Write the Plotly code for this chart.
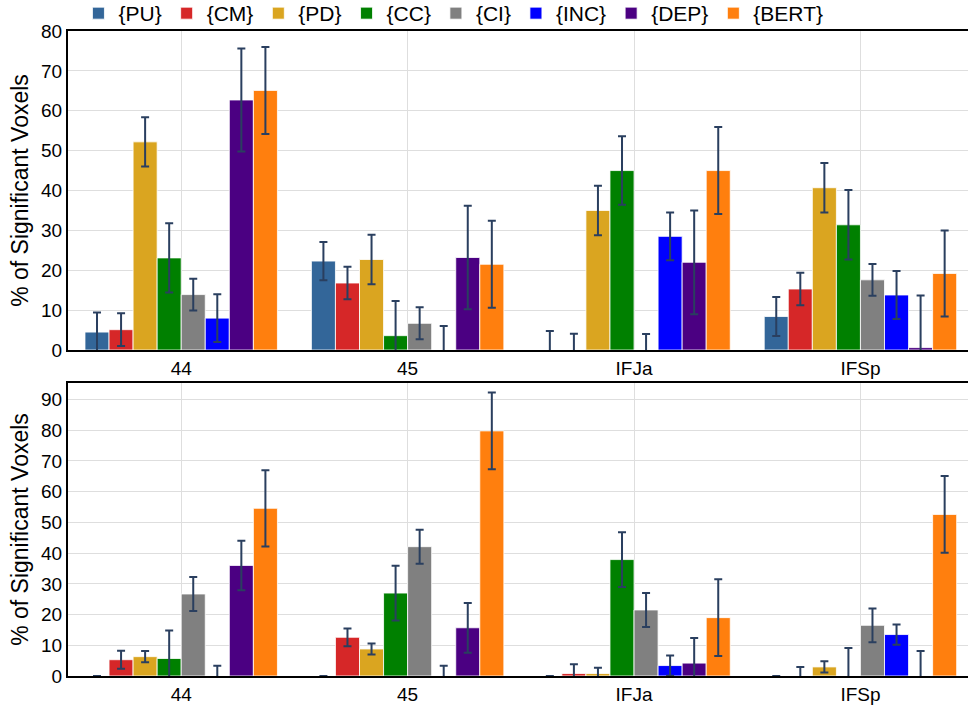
import plotly.graph_objects as go

regions = ["44", "45", "IFJa", "IFSp"]
series = ["{PU}", "{CM}", "{PD}", "{CC}", "{CI}", "{INC}", "{DEP}", "{BERT}"]
colors = ["#336699", "#d62728", "#daa520", "#008000", "#808080", "#0000ff", "#4b0082", "#ff7f0e"]

# Top panel values (% of significant voxels) per series, ordered by regions
top_vals = {
    "{PU}":   [4.5, 22.3, 0.0, 8.4],
    "{CM}":   [5.1, 16.8, 0.0, 15.3],
    "{PD}":   [52.2, 22.7, 35.0, 40.7],
    "{CC}":   [23.1, 3.6, 45.0, 31.4],
    "{CI}":   [13.9, 6.7, 0.0, 17.6],
    "{INC}":  [8.0, 0.0, 28.5, 13.8],
    "{DEP}":  [62.7, 23.2, 22.0, 0.6],
    "{BERT}": [65.1, 21.5, 45.0, 19.2],
}
top_err = {
    "{PU}":   [4.9, 4.8, 4.8, 4.9],
    "{CM}":   [4.1, 4.1, 4.1, 4.1],
    "{PD}":   [6.2, 6.2, 6.2, 6.2],
    "{CC}":   [8.7, 8.7, 8.6, 8.7],
    "{CI}":   [4.0, 4.0, 4.0, 4.0],
    "{INC}":  [6.0, 6.0, 6.0, 6.0],
    "{DEP}":  [12.9, 13.0, 13.0, 13.1],
    "{BERT}": [10.9, 10.9, 10.9, 10.8],
}

# Bottom panel values
bot_vals = {
    "{PU}":   [0.0, 0.0, 0.0, 0.0],
    "{CM}":   [5.3, 12.6, 0.8, 0.0],
    "{PD}":   [6.3, 8.8, 0.8, 2.95],
    "{CC}":   [5.7, 27.0, 37.9, 0.0],
    "{CI}":   [26.7, 42.1, 21.5, 16.5],
    "{INC}":  [0.0, 0.0, 3.4, 13.5],
    "{DEP}":  [36.0, 15.7, 4.2, 0.0],
    "{BERT}": [54.6, 79.8, 19.0, 52.6],
}
bot_err = {
    "{PU}":   [0.0, 0.0, 0.0, 0.0],
    "{CM}":   [2.9, 2.9, 3.0, 2.95],
    "{PD}":   [1.85, 1.8, 1.9, 1.85],
    "{CC}":   [9.1, 8.9, 8.9, 9.1],
    "{CI}":   [5.5, 5.55, 5.55, 5.5],
    "{INC}":  [3.3, 3.3, 3.3, 3.3],
    "{DEP}":  [8.05, 8.1, 8.2, 8.1],
    "{BERT}": [12.4, 12.5, 12.5, 12.5],
}

top_ticks = [0, 10, 20, 30, 40, 50, 60, 70, 80]
bot_ticks = [0, 10, 20, 30, 40, 50, 60, 70, 80, 90]

fig = go.Figure()
for s, c in zip(series, colors):
    for vals, errs, xa, ya, show in [(top_vals, top_err, "x", "y", True),
                                     (bot_vals, bot_err, "x2", "y2", False)]:
        fig.add_trace(go.Bar(
            x=regions, y=vals[s], name=s, legendgroup=s, showlegend=show,
            marker=dict(color=c, line=dict(color="rgba(255,255,255,0.8)", width=1)),
            error_y=dict(type="data", array=errs[s], visible=True,
                         color="#2a3f5f", thickness=2, width=4),
            xaxis=xa, yaxis=ya,
        ))

axis_common = dict(showline=True, linecolor="black", linewidth=2,
                   showgrid=True, gridcolor="#dedede", gridwidth=1,
                   ticks="", ticklen=0, zeroline=False, automargin=False)

fig.update_layout(
    width=968, height=708,
    template="plotly_white",
    font=dict(family="Liberation Sans, Arial, sans-serif", size=18, color="black"),
    margin=dict(l=68, r=0, t=31, b=32, autoexpand=False),
    barmode="group", bargap=0.15, bargroupgap=0,
    plot_bgcolor="white", paper_bgcolor="white",
    legend=dict(orientation="h", x=0.0116, y=1.0589, xanchor="left", yanchor="top",
                font=dict(size=21), bgcolor="rgba(0,0,0,0)"),
    xaxis=dict(axis_common, domain=[0, 1], range=[-0.5, 3.475], mirror=True, anchor="y",
               tickfont=dict(size=19, color="black")),
    yaxis=dict(axis_common, domain=[0.5054, 1], range=[0, 80], tickvals=top_ticks,
               anchor="x", tickfont=dict(size=19, color="black"),
               title=dict(text="% of Significant Voxels", font=dict(size=23), standoff=6)),
    xaxis2=dict(axis_common, domain=[0, 1], range=[-0.5, 3.475], mirror=True, anchor="y2",
                tickfont=dict(size=19, color="black")),
    yaxis2=dict(axis_common, domain=[0, 0.4543], range=[0, 95.4], tickvals=bot_ticks,
                anchor="x2", tickfont=dict(size=19, color="black"),
                title=dict(text="% of Significant Voxels", font=dict(size=23), standoff=6)),
)

fig.write_html("out.html", config={"displayModeBar": False},
               post_script="document.body.style.margin='0';")
